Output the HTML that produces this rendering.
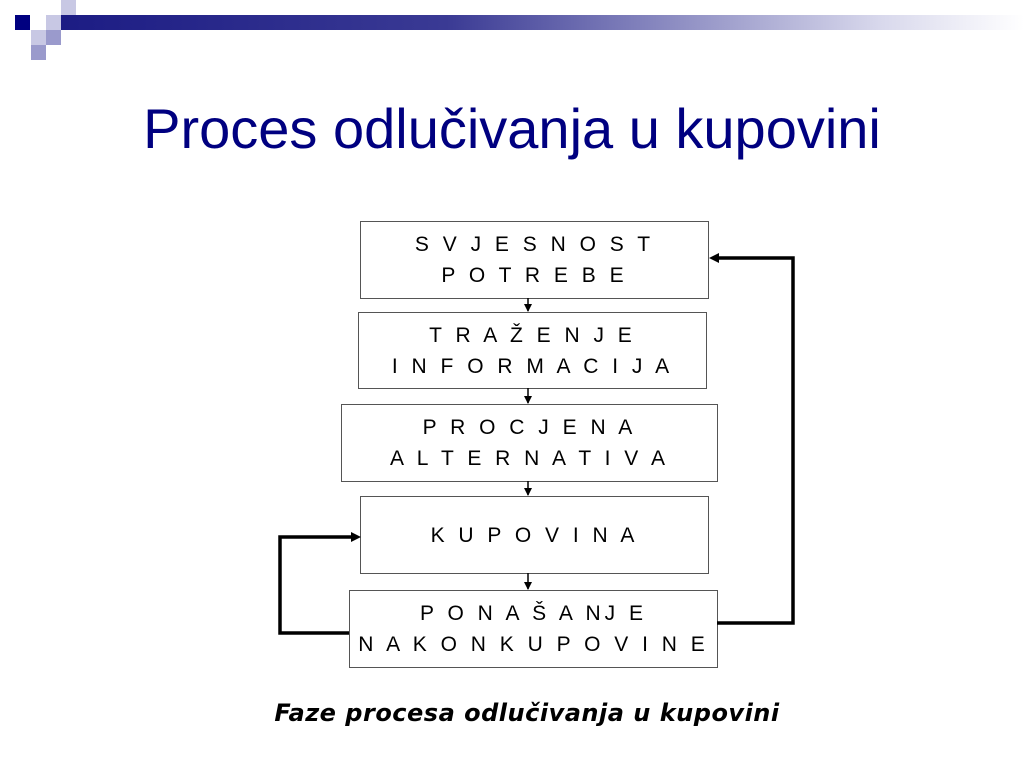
<html><head><style>
body{margin:0;width:1024px;height:768px;background:#fff;position:relative;overflow:hidden;font-family:"Liberation Sans",sans-serif}
.s{position:absolute;width:15px;height:15px}
.b{position:absolute;border:1px solid #555;background:#fff;display:flex;align-items:center;justify-content:center;text-align:center;font-family:"Liberation Sans",sans-serif;font-size:21px;line-height:31px;letter-spacing:4px;color:#000;white-space:nowrap}
</style></head><body>
<div class="s" style="left:15px;top:15px;background:#000080"></div>
<div class="s" style="left:61px;top:0;background:#c8c8e4"></div>
<div class="s" style="left:46px;top:15px;background:#c8c8e4"></div>
<div class="s" style="left:31px;top:30px;background:#c8c8e4"></div>
<div class="s" style="left:46px;top:30px;background:#9a9acc"></div>
<div class="s" style="left:31px;top:45px;background:#9a9acc"></div>
<div style="position:absolute;left:61px;top:15px;width:963px;height:15px;background:linear-gradient(90deg,#1c1c84,#3a3a94 40%,#d8d8ec 85%,#fff)"></div>
<div style="position:absolute;left:0;top:96px;width:1024px;text-align:center;font-size:56px;color:#000080">Proces odlučivanja u kupovini</div>
<div class="b" style="left:360px;top:221px;width:347px;height:76px">S V J E S N O S T<br>P O T R E B E</div>
<div class="b" style="left:358px;top:312px;width:347px;height:75px">T R A Ž E N J E<br>I N F O R M A C I J A</div>
<div class="b" style="left:341px;top:404px;width:375px;height:76px">P R O C J E N A<br>A L T E R N A T I V A</div>
<div class="b" style="left:360px;top:496px;width:347px;height:76px">K U P O V I N A</div>
<div class="b" style="left:349px;top:590px;width:367px;height:76px">P O N A Š A NJ E<br>N A K O N&nbsp;K U P O V I N E</div>
<svg width="1024" height="768" style="position:absolute;left:0;top:0">
<defs><marker id="a" markerWidth="8" markerHeight="8" refX="7" refY="4" orient="auto" markerUnits="userSpaceOnUse"><path d="M0,0L8,4L0,8z"/></marker></defs>
<g stroke="#000" stroke-width="1.5" fill="none">
<line x1="528" y1="298" x2="528" y2="311" marker-end="url(#a)"/>
<line x1="528" y1="388" x2="528" y2="403" marker-end="url(#a)"/>
<line x1="528" y1="481" x2="528" y2="495" marker-end="url(#a)"/>
<line x1="528" y1="573" x2="528" y2="589" marker-end="url(#a)"/>
</g>
<g stroke="#000" stroke-width="3.5" fill="none">
<polyline points="717,623 793,623 793,258 718,258"/>
<polyline points="349,633 280,633 280,537 352,537"/>
</g>
<path d="M709,258L719,253L719,263z"/>
<path d="M361,537L351,532L351,542z"/>
</svg>
<div style="position:absolute;left:0;top:699px;width:1054px;text-align:center;font-family:'DejaVu Sans',sans-serif;font-size:24px;letter-spacing:0.5px;font-weight:bold;font-style:italic">Faze procesa odlučivanja u kupovini</div>
</body></html>
